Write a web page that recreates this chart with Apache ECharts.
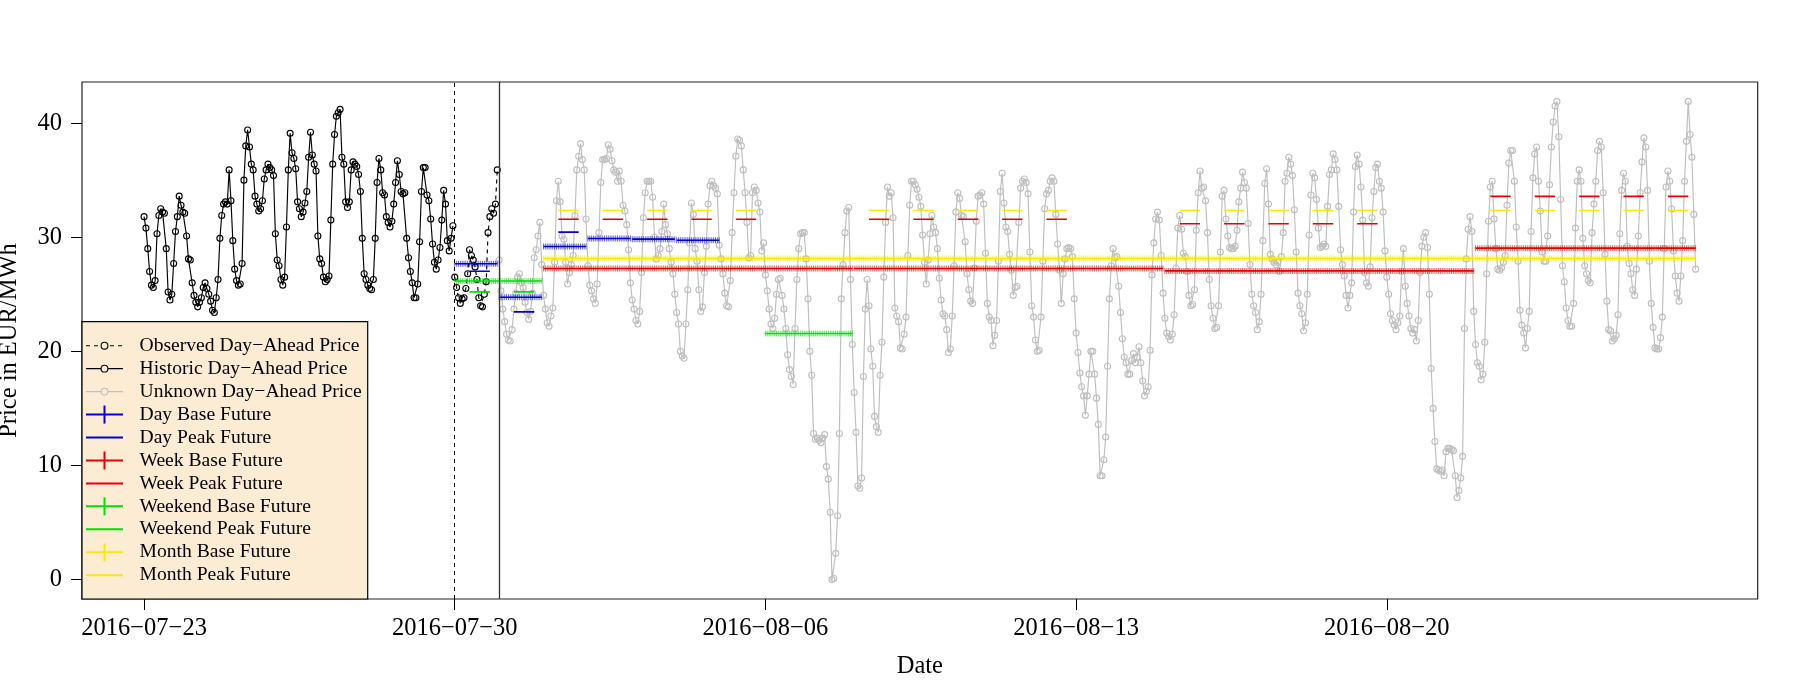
<!DOCTYPE html>
<html><head><meta charset="utf-8">
<script src="https://cdn.jsdelivr.net/npm/echarts@6/dist/echarts.min.js"></script>
<style>html,body{margin:0;padding:0;background:#fff}#c{width:1800px;height:700px}</style>
</head><body><div id="c"></div>
<script>
// ---------------- data ----------------
const startDate = '2016-07-23';
const xTickDates = ['2016-07-23', '2016-07-30', '2016-08-06', '2016-08-13', '2016-08-20'];
const yTicks = [0, 10, 20, 30, 40];

// hourly prices 2016-07-23 .. 2016-07-29 (historic)
const historicPrices = [
  31.8,30.8,29.0,27.0,25.8,25.6,26.2,30.3,31.9,32.5,32.2,32.1,29.0,25.2,24.5,25.0,27.7,30.5,31.8,33.6,32.8,32.2,32.1,30.1,
  28.1,28.0,26.0,24.9,24.3,23.9,24.3,24.7,25.6,26.0,25.5,25.0,24.4,23.6,23.4,24.7,26.3,29.9,31.9,32.9,33.1,32.9,35.9,33.2,
  29.7,27.2,26.2,25.8,25.9,27.7,35.0,38.0,39.4,37.9,36.4,35.9,33.6,32.9,32.3,32.5,33.2,35.1,35.9,36.4,36.1,35.9,35.4,30.3,
  28.0,27.5,26.3,25.8,26.5,30.9,35.9,39.1,37.4,36.9,36.0,33.1,32.5,31.8,32.2,33.0,34.0,37.0,39.2,37.2,36.4,35.8,30.1,28.1,
  27.7,26.5,26.1,26.3,26.6,31.5,36.4,39.0,40.6,40.9,41.2,37.0,36.4,33.1,32.6,33.1,35.9,36.6,36.4,36.2,35.5,34.0,29.9,26.8,
  26.3,25.8,25.5,25.4,26.3,29.9,34.8,36.9,35.9,33.9,33.7,31.8,31.3,30.9,31.4,32.9,34.8,36.7,35.5,34.0,33.8,33.9,29.9,28.2,
  27.0,26.0,24.7,24.7,25.9,29.6,34.0,36.1,36.1,33.7,33.2,31.6,29.4,27.8,27.2,28.0,29.1,31.5,34.1,32.9,29.7,28.8,29.9,31.0
];
// hourly prices 2016-07-30 (observed)
const observedPrices = [
  26.5,25.6,24.7,24.2,24.6,24.7,25.5,26.8,28.9,28.4,28.0,27.4,26.3,24.7,24.0,23.9,25.0,26.1,30.4,31.8,32.5,32.1,32.9,35.9
];
// hourly prices 2016-07-31 .. 2016-08-26 (unknown)
const unknownPrices = [
  28.0,25.3,23.7,22.6,21.5,21.0,20.9,21.9,23.7,25.1,26.5,26.8,26.0,25.6,24.3,23.4,22.8,23.5,25.1,28.2,28.9,30.1,31.3,27.6,
  24.9,23.7,22.5,22.2,23.1,23.8,27.8,33.2,34.9,33.1,30.1,29.8,27.8,25.9,26.9,27.6,28.4,31.9,35.9,37.1,38.2,36.8,35.9,31.6,
  27.5,25.8,25.3,24.6,24.2,25.9,30.4,34.8,36.8,36.8,36.9,38.1,37.7,36.7,35.9,35.7,34.9,35.8,34.9,32.8,32.3,31.1,28.9,26.0,
  24.5,23.7,22.7,22.4,23.5,26.9,31.7,33.9,34.9,34.9,34.9,33.5,30.0,28.1,28.4,29.0,30.5,32.9,31.1,30.3,29.0,27.8,26.8,25.0,
  23.4,22.4,20.0,19.6,19.4,22.4,25.4,29.5,33.0,32.0,29.0,27.9,25.4,23.5,23.9,26.9,29.2,32.9,34.5,34.9,34.5,34.3,33.8,29.3,
  28.1,26.8,25.1,24.0,23.9,26.2,30.4,33.9,37.1,38.6,38.5,38.0,35.9,33.9,31.3,28.2,28.4,33.9,34.4,34.1,33.0,32.2,28.8,29.5,
  26.7,25.3,23.7,22.4,22.0,22.9,25.0,26.3,26.4,24.9,23.7,22.0,19.7,18.4,17.8,17.1,22.0,26.3,29.0,30.3,30.4,30.4,28.1,24.6,
  20.0,17.9,12.8,12.3,12.4,12.2,12.0,12.4,12.7,9.9,8.8,5.9,0.0,0.1,2.3,5.6,12.8,24.6,27.6,30.4,32.3,32.6,26.3,20.6,
  16.4,12.9,8.2,8.0,8.9,17.8,23.7,26.3,24.0,20.2,18.7,14.3,13.4,12.9,17.9,20.8,26.5,31.3,34.4,33.6,33.9,31.7,23.8,23.1,
  22.6,20.3,20.2,21.5,23.0,28.4,32.8,34.9,34.9,34.6,34.2,33.5,32.7,30.2,27.8,25.9,28.0,30.3,31.9,30.9,30.4,29.0,26.4,24.5,
  23.3,23.1,21.9,19.9,20.2,23.1,27.5,32.2,33.9,33.4,31.9,31.8,29.6,26.8,25.4,24.4,24.2,27.3,31.4,33.6,33.7,33.9,32.9,28.6,
  24.2,23.0,22.7,20.5,21.4,22.7,27.9,34.0,35.6,33.0,30.9,30.5,28.5,27.1,24.9,25.6,25.7,31.3,34.3,34.9,35.1,34.8,33.8,28.7,
  24.0,23.0,21.0,20.0,20.1,23.0,27.9,32.5,33.8,34.1,34.9,35.2,34.9,32.0,29.4,27.1,24.2,26.8,28.1,29.0,29.1,29.0,28.3,24.6,
  21.6,19.9,18.1,16.9,16.1,14.4,16.1,18.0,20.0,20.0,18.0,15.9,13.6,9.1,9.1,10.5,12.5,18.7,24.6,27.5,29.0,28.2,28.3,25.7,
  23.4,21.1,19.5,19.0,18.0,18.0,19.2,19.8,19.0,19.5,20.4,19.0,17.4,16.1,16.5,16.9,20.1,26.7,29.5,31.6,32.2,31.5,28.4,25.1,
  22.9,21.6,21.3,21.0,21.5,23.2,27.3,30.8,31.9,30.7,28.6,28.3,27.0,24.9,24.0,24.1,25.4,30.6,33.9,35.8,34.3,34.4,33.2,30.4,
  26.3,24.0,22.9,22.0,22.1,24.0,28.7,33.6,34.1,31.6,30.1,29.1,29.0,29.0,29.2,30.6,33.1,34.3,35.7,34.8,34.3,31.2,27.6,25.0,
  24.0,23.4,21.9,22.6,25.0,29.7,34.7,36.0,32.9,28.5,28.1,27.8,27.6,27.8,27.0,28.3,30.4,34.9,35.6,37.0,36.4,35.4,32.4,28.7,
  25.1,24.0,23.3,21.8,22.5,25.0,30.2,33.7,35.6,35.2,33.3,30.8,29.1,29.2,29.4,29.2,32.7,35.5,35.9,37.3,36.8,35.9,32.7,28.9,
  27.6,26.6,24.9,23.8,24.9,26.0,32.2,36.2,37.2,36.4,34.4,31.5,26.9,26.0,25.7,27.4,31.7,34.0,36.1,36.4,34.9,34.3,32.2,28.8,
  26.5,25.0,23.3,22.7,22.3,21.9,22.5,23.1,27.0,29.0,25.7,24.2,23.1,22.0,21.6,21.9,20.9,22.7,26.9,29.2,30.0,30.4,29.1,25.0,
  18.5,15.0,12.1,9.7,9.6,9.5,9.6,9.1,11.2,11.5,11.5,11.4,11.3,9.1,7.2,7.8,8.9,10.8,22.0,28.1,30.7,31.8,30.5,23.5,
  20.6,19.0,18.7,17.5,18.0,20.8,26.8,31.4,34.4,34.9,31.6,29.0,27.2,27.1,27.3,27.8,28.4,32.8,36.5,37.6,37.6,34.9,30.9,27.9,
  23.6,22.3,21.6,20.3,22.0,23.5,30.5,35.2,37.3,37.9,34.9,32.3,28.7,27.9,27.9,30.1,34.6,37.9,40.1,41.5,41.9,38.8,33.3,27.5,
  26.1,23.8,22.7,22.2,22.2,24.2,30.8,34.9,35.9,34.9,29.9,27.5,26.8,26.2,26.0,30.4,32.9,34.9,37.6,38.4,37.9,33.9,28.5,24.4,
  21.9,21.8,20.9,21.1,21.4,23.2,30.3,34.1,35.6,34.9,29.2,27.7,26.8,25.4,24.9,27.2,30.1,33.9,36.6,38.7,37.9,34.1,27.9,24.2,
  22.1,20.3,20.2,20.2,21.2,23.0,29.0,34.4,35.8,34.9,32.5,28.8,26.6,25.1,24.4,26.6,29.7,34.9,38.4,41.9,39.0,37.0,32.0,27.2
];

// futures: [delivery start, price]
const dayBaseFutures     = [['2016-07-30', 27.67], ['2016-07-31', 24.74], ['2016-08-01', 29.19], ['2016-08-02', 29.89], ['2016-08-03', 29.83], ['2016-08-04', 29.74]];
const dayPeakFutures     = [['2016-07-30', 27.02], ['2016-07-31', 23.46], ['2016-08-01', 30.45]];
const weekBaseFutures    = [['2016-08-01', 27.26], ['2016-08-08', 27.26], ['2016-08-15', 27.05], ['2016-08-22', 29.04]];
const weekPeakFutures    = [['2016-08-01', 31.58], ['2016-08-08', 31.58], ['2016-08-15', 31.18], ['2016-08-22', 33.58]];
const weekendBaseFutures = [['2016-07-30', 26.17], ['2016-08-06', 21.56]];
const weekendPeakFutures = [['2016-07-30', 25.21]];
const monthBaseFutures   = [['2016-08-01', 28.13]];
const monthPeakFutures   = [['2016-08-01', 32.34]];

const legendLabels = ['Observed Day\u2212Ahead Price', 'Historic Day\u2212Ahead Price', 'Unknown Day\u2212Ahead Price',
  'Day Base Future', 'Day Peak Future', 'Week Base Future', 'Week Peak Future',
  'Weekend Base Future', 'Weekend Peak Future', 'Month Base Future', 'Month Peak Future'];

// ---------------- helpers ----------------
const MS_H = 3600000;
function hourOf(d) {
  const p = d.split('-').map(Number), s = startDate.split('-').map(Number);
  return (Date.UTC(p[0], p[1] - 1, p[2]) - Date.UTC(s[0], s[1] - 1, s[2])) / MS_H;
}
function fmtDate(h) {
  const s = startDate.split('-').map(Number);
  const d = new Date(Date.UTC(s[0], s[1] - 1, s[2]) + h * MS_H);
  const mm = String(d.getUTCMonth() + 1).padStart(2, '0'), dd = String(d.getUTCDate()).padStart(2, '0');
  return d.getUTCFullYear() + '\u2212' + mm + '\u2212' + dd;
}
const nHist = historicPrices.length, nObs = observedPrices.length;
const lastHour = nHist + nObs + unknownPrices.length - 1;
const toPts = (arr, off) => arr.map((v, i) => [off + i, v]);

function baseSeg(list, days) {
  const out = [];
  list.forEach(([d, v]) => {
    const s = hourOf(d);
    for (let h = s; h < s + days * 24 && h <= lastHour; h++) out.push([h, v]);
    out.push([s + days * 24 - 0.5, '-']);
  });
  return out;
}
function peakSeg(list, days, weekdaysOnly) {
  const out = [];
  const s0 = startDate.split('-').map(Number);
  list.forEach(([d, v]) => {
    const s = hourOf(d);
    for (let k = 0; k < days; k++) {
      const ds = s + k * 24;
      if (ds > lastHour) break;
      const dow = new Date(Date.UTC(s0[0], s0[1] - 1, s0[2]) + ds * MS_H).getUTCDay();
      if (weekdaysOnly && (dow === 0 || dow === 6)) continue;
      out.push([ds + 8, v], [ds + 19, v], [ds + 19.5, '-']);
    }
  });
  return out;
}

// ---------------- style ----------------
const FONT = 'Liberation Serif';
const C = { blue: '#0000CD', red: '#E60000', green: '#00E000', yellow: '#FFE600', gray: '#BEBEBE', black: '#000000' };
const xPad = lastHour * 0.04;

function priceSeries(name, data, color, dashed, extra) {
  return Object.assign({
    name, type: 'line', data, symbol: 'circle', symbolSize: 6,
    lineStyle: { color, width: 1.15, type: dashed ? [4, 4] : 'solid' },
    itemStyle: { color: 'rgba(0,0,0,0)', borderColor: color, borderWidth: 1.1 },
    emphasis: { disabled: true }, z: 3
  }, extra || {});
}
function baseSeries(name, data, color) {
  return {
    name, type: 'line', data, symbol: 'rect', symbolSize: [1, 6],
    lineStyle: { color, width: 1.6 },
    itemStyle: { color, opacity: 0.6 },
    emphasis: { disabled: true }, z: 4
  };
}
function peakSeries(name, data, color) {
  return {
    name, type: 'line', data, symbol: 'none', lineStyle: { color, width: 1.6 },
    emphasis: { disabled: true }, z: 4
  };
}

// ---------------- legend graphic ----------------
const L = { x: 82, y: 321.7, w: 285.7, h: 277.3, row0: 345.7, rowLast: 575.2, lx1: 86, lx2: 123, cx: 104.5, tx: 139.5 };
const legendItems = [
  { c: C.black, dash: true, circle: true }, { c: C.black, circle: true }, { c: C.gray, circle: true },
  { c: C.blue, plus: true }, { c: C.blue }, { c: C.red, plus: true }, { c: C.red },
  { c: C.green, plus: true }, { c: C.green }, { c: C.yellow, plus: true }, { c: C.yellow }
];
const graphic = [{ type: 'rect', shape: { x: L.x, y: L.y, width: L.w, height: L.h }, style: { fill: '#FDECD4', stroke: '#000', lineWidth: 1.2 }, z: 10 }];
const rowStep = (L.rowLast - L.row0) / (legendItems.length - 1);
legendItems.forEach((it, i) => {
  const y = L.row0 + i * rowStep;
  graphic.push({ type: 'line', shape: { x1: L.lx1, y1: y, x2: L.lx2, y2: y }, style: { stroke: it.c, lineWidth: it.circle ? 1.1 : 2, lineDash: it.dash ? [4, 4] : null }, z: 11 });
  if (it.circle) graphic.push({ type: 'circle', shape: { cx: L.cx, cy: y, r: 3.4 }, style: { fill: '#FDECD4', stroke: it.c, lineWidth: 1.1 }, z: 12 });
  if (it.plus) graphic.push({ type: 'line', shape: { x1: L.cx, y1: y - 9, x2: L.cx, y2: y + 9 }, style: { stroke: it.c, lineWidth: 2 }, z: 12 });
  graphic.push({ type: 'text', x: L.tx, y: y, style: { text: legendLabels[i], font: '19.6px "' + FONT + '"', fill: '#000', verticalAlign: 'middle', textAlign: 'left' }, z: 12 });
});

// ---------------- chart ----------------
const chart = echarts.init(document.getElementById('c'), null, { renderer: 'canvas' });
chart.setOption({
  animation: false,
  backgroundColor: '#ffffff',
  grid: { left: 82, right: 42.3, top: 82, bottom: 101, show: true, borderColor: '#222', borderWidth: 1.2, backgroundColor: 'transparent', containLabel: false, outerBoundsMode: 'none' },
  xAxis: {
    type: 'value', min: -xPad, max: lastHour + xPad,
    name: 'Date', nameLocation: 'middle', nameGap: 55,
    nameTextStyle: { fontFamily: FONT, fontSize: 24.5, color: '#000' },
    axisLine: { show: false, onZero: false }, splitLine: { show: false },
    axisTick: { show: true, length: 11, lineStyle: { color: '#000', width: 1 }, customValues: xTickDates.map(hourOf) },
    axisLabel: { fontFamily: FONT, fontSize: 24.5, color: '#000', margin: 17, customValues: xTickDates.map(hourOf), formatter: v => fmtDate(v) }
  },
  yAxis: {
    type: 'value', min: -1.7, max: 43.6,
    name: 'Price in EUR/MWh', nameLocation: 'middle', nameGap: 60,
    nameTextStyle: { fontFamily: FONT, fontSize: 24.5, color: '#000' },
    axisLine: { show: false, onZero: false }, splitLine: { show: false },
    axisTick: { show: true, length: 11, lineStyle: { color: '#000', width: 1 }, customValues: yTicks },
    axisLabel: { fontFamily: FONT, fontSize: 24.5, color: '#000', margin: 20, customValues: yTicks }
  },
  series: [
    priceSeries('Historic Day-Ahead Price', toPts(historicPrices, 0), C.black, false, {
      markLine: {
        silent: true, symbol: 'none', label: { show: false }, animation: false,
        data: [
          { xAxis: hourOf('2016-07-30'), lineStyle: { type: [4, 4], color: '#000', width: 1 } },
          { xAxis: hourOf('2016-07-31'), lineStyle: { type: 'solid', color: '#333', width: 1.3 } }
        ]
      }
    }),
    priceSeries('Observed Day-Ahead Price', toPts(observedPrices, nHist), C.black, true),
    priceSeries('Unknown Day-Ahead Price', toPts(unknownPrices, nHist + nObs), C.gray, false, { z: 2 }),
    baseSeries('Month Base Future', baseSeg(monthBaseFutures, 31), C.yellow),
    peakSeries('Month Peak Future', peakSeg(monthPeakFutures, 31, true), C.yellow),
    baseSeries('Week Base Future', baseSeg(weekBaseFutures, 7), C.red),
    peakSeries('Week Peak Future', peakSeg(weekPeakFutures, 7, true), C.red),
    baseSeries('Weekend Base Future', baseSeg(weekendBaseFutures, 2), C.green),
    peakSeries('Weekend Peak Future', peakSeg(weekendPeakFutures, 2, false), C.green),
    baseSeries('Day Base Future', baseSeg(dayBaseFutures, 1), C.blue),
    peakSeries('Day Peak Future', peakSeg(dayPeakFutures, 1, false), C.blue)
  ],
  graphic: graphic
});
</script></body></html>
